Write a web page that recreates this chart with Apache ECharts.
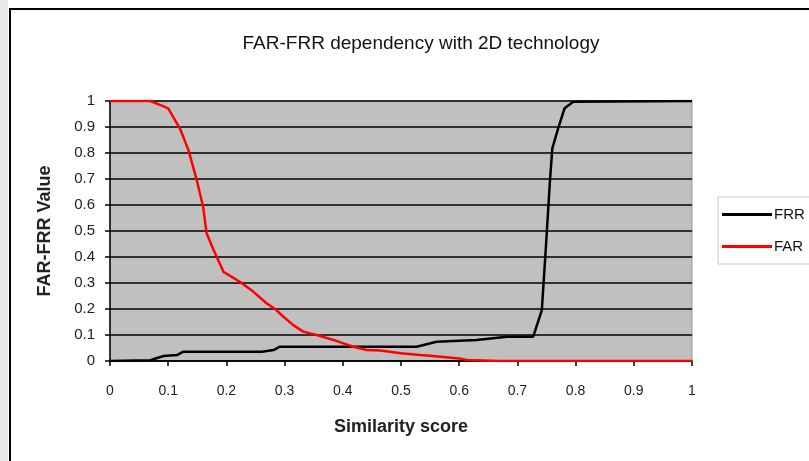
<!DOCTYPE html>
<html>
<head>
<meta charset="utf-8">
<script src="https://cdn.jsdelivr.net/npm/echarts@6/dist/echarts.min.js"></script>
<style>
  body { margin: 0; background: #fff; overflow: hidden; }
  #strip { position: absolute; left: 0; top: 0; width: 8px; height: 461px; background: #e9e9e9; }
  #frame { position: absolute; left: 9px; top: 8px; width: 820px; height: 480px; border: 2px solid #000; }
  #main { position: absolute; left: 0; top: 0; width: 809px; height: 461px; }
</style>
</head>
<body>
<div id="strip"></div>
<div id="frame"></div>
<div id="main"></div>
<script>
// FRR curve (similarity score, value)
var frrX = [0, 0.069, 0.092, 0.115, 0.126, 0.261, 0.281, 0.292, 0.464, 0.527, 0.561, 0.63, 0.682, 0.727, 0.742, 0.749, 0.756, 0.76, 0.77, 0.781, 0.796, 1];
var frrY = [0, 0.003, 0.019, 0.023, 0.036, 0.036, 0.042, 0.055, 0.055, 0.055, 0.074, 0.081, 0.093, 0.093, 0.196, 0.44, 0.696, 0.818, 0.895, 0.972, 0.997, 1];

// FAR curve
var farX = [0, 0.069, 0.086, 0.1, 0.12, 0.135, 0.149, 0.16, 0.166, 0.178, 0.195, 0.223, 0.246, 0.269, 0.286, 0.298, 0.315, 0.332, 0.355, 0.384, 0.401, 0.418, 0.441, 0.464, 0.5, 0.533, 0.55, 0.6, 0.613, 0.67, 1];
var farY = [1, 1, 0.985, 0.972, 0.895, 0.81, 0.696, 0.593, 0.491, 0.427, 0.343, 0.305, 0.267, 0.222, 0.196, 0.17, 0.138, 0.113, 0.1, 0.081, 0.068, 0.055, 0.042, 0.04, 0.03, 0.023, 0.02, 0.01, 0.004, 0, 0];

function pairs(xs, ys) {
  return xs.map(function (x, i) { return [x, ys[i]]; });
}

var chart = echarts.init(document.getElementById('main'));
var font = 'Liberation Sans, Arial, sans-serif';

chart.setOption({
  backgroundColor: 'transparent',
  animation: false,
  title: {
    text: 'FAR-FRR dependency with 2D technology',
    left: 416,
    textAlign: 'center',
    top: 29,
    textStyle: { fontFamily: font, fontSize: 19, fontWeight: 'normal', color: '#111' }
  },
  legend: {
    orient: 'vertical',
    left: 718,
    top: 197,
    padding: [10, 40, 10, 4],
    itemGap: 17,
    itemWidth: 50,
    itemHeight: 3,
    icon: 'rect',
    borderColor: '#c8c8c8',
    borderWidth: 1,
    textStyle: { fontFamily: font, fontSize: 15, color: '#111', padding: [0, 0, 0, -3] },
    data: ['FRR', 'FAR']
  },
  grid: {
    left: 110,
    right: 117,
    top: 101,
    bottom: 100,
    show: true,
    backgroundColor: '#c0c0c0',
    borderColor: '#9a9a9a',
    borderWidth: 1
  },
  xAxis: {
    type: 'value',
    min: 0,
    max: 1,
    interval: 0.1,
    name: 'Similarity score',
    nameLocation: 'middle',
    nameGap: 57,
    nameTextStyle: { fontFamily: font, fontSize: 18, fontWeight: 'bold', color: '#222' },
    axisLine: { lineStyle: { color: '#000', width: 1.5 } },
    axisTick: { show: true, length: 5, lineStyle: { color: '#000', width: 1.5 } },
    axisLabel: { fontFamily: font, fontSize: 14, color: '#222', margin: 23 },
    splitLine: { show: false }
  },
  yAxis: {
    type: 'value',
    min: 0,
    max: 1,
    interval: 0.1,
    name: 'FAR-FRR Value',
    nameLocation: 'middle',
    nameGap: 56,
    nameTextStyle: { fontFamily: font, fontSize: 18, fontWeight: 'bold', color: '#222' },
    axisLine: { show: true, lineStyle: { color: '#000', width: 1.5 } },
    axisTick: { show: true, length: 5, lineStyle: { color: '#000', width: 1.5 } },
    axisLabel: { fontFamily: font, fontSize: 15, color: '#222', margin: 15 },
    splitLine: { show: true, lineStyle: { color: '#000', width: 1.5 } }
  },
  series: [
    {
      name: 'FRR',
      type: 'line',
      showSymbol: false,
      data: pairs(frrX, frrY),
      itemStyle: { color: '#000' },
      lineStyle: { color: '#000', width: 2.5 },
      z: 3
    },
    {
      name: 'FAR',
      type: 'line',
      showSymbol: false,
      data: pairs(farX, farY),
      itemStyle: { color: '#ff0000' },
      lineStyle: { color: '#ff0000', width: 2.5 },
      z: 4
    }
  ]
});
</script>
</body>
</html>
